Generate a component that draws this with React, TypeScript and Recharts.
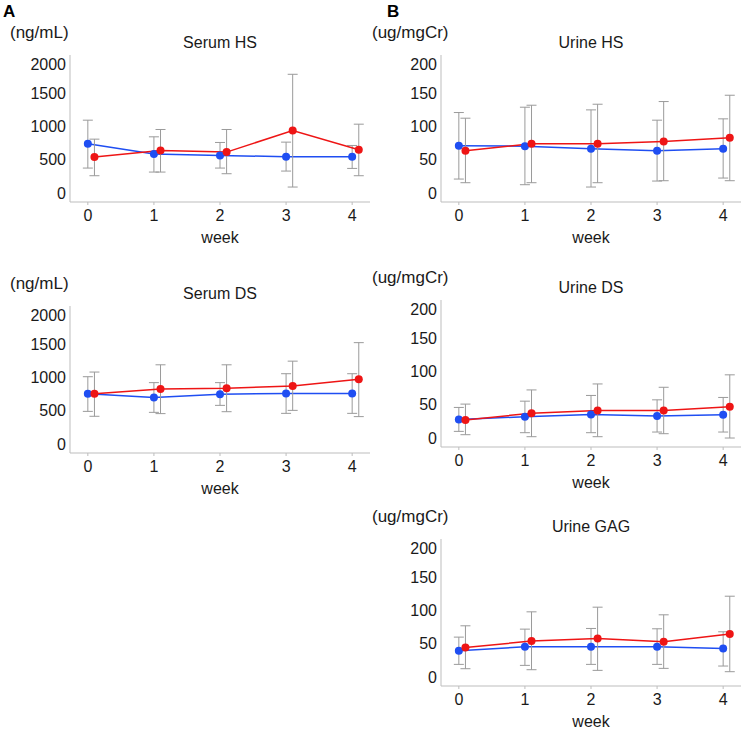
import React from "react";
import { LineChart, Line, XAxis, YAxis, ErrorBar } from "recharts";

const weeks = [0, 1, 2, 3, 4];
const offsetRed = 0.1;

// Serum HS (ng/mL)
const serumHSBlue = [740, 585, 565, 545, 545];
const serumHSBlueHi = [1095, 845, 760, 765, 715];
const serumHSBlueLo = [375, 315, 375, 330, 370];
const serumHSRed = [540, 640, 615, 940, 650];
const serumHSRedHi = [810, 955, 955, 1785, 1035];
const serumHSRedLo = [260, 315, 290, 90, 260];

// Serum DS (ng/mL)
const serumDSBlue = [754, 700, 749, 759, 759];
const serumDSBlueHi = [1012, 923, 923, 1057, 1057];
const serumDSBlueLo = [491, 476, 581, 461, 461];
const serumDSRed = [754, 829, 839, 873, 973];
const serumDSRedHi = [1082, 1191, 1191, 1246, 1524];
const serumDSRedLo = [417, 457, 486, 506, 412];

// Urine HS (ug/mgCr)
const urineHSBlue = [71, 70.5, 66.5, 63.5, 66.5];
const urineHSBlueHi = [121, 129, 125, 109.5, 111.5];
const urineHSBlueLo = [21, 12.5, 9, 18, 22.5];
const urineHSRed = [63.5, 74, 74, 77.5, 83];
const urineHSRedHi = [112.5, 132, 133.5, 137.5, 147];
const urineHSRedLo = [15.5, 15.5, 15.5, 18.5, 18.5];

// Urine DS (ug/mgCr)
const urineDSBlue = [28, 32, 35.4, 33, 35];
const urineDSBlueHi = [46, 55.4, 64, 57.4, 61];
const urineDSBlueLo = [10, 8, 8, 9, 9];
const urineDSRed = [27, 37.4, 41.4, 41.4, 47];
const urineDSRedHi = [51, 72.3, 81.3, 76.3, 95];
const urineDSRedLo = [5, 2, 2, 6.5, 0];

// Urine GAG (ug/mgCr)
const urineGAGBlue = [39.5, 45.5, 45.5, 45.5, 43];
const urineGAGBlueHi = [60, 72, 73, 72.5, 68];
const urineGAGBlueLo = [19, 17.5, 19, 19, 16.5];
const urineGAGRed = [44.5, 54, 58, 53, 64.5];
const urineGAGRedHi = [77, 98, 105, 93.5, 121.5];
const urineGAGRedLo = [12.5, 11, 10, 13, 8];

const serumTicks = [0, 500, 1000, 1500, 2000];
const urineTicks = [0, 50, 100, 150, 200];
const serumDomain: [number, number] = [-135, 2075];
const urineDomain: [number, number] = [-13.5, 207.5];

const BLUE = "#1f4ef2";
const RED = "#ee1515";
const FONT = "'Liberation Sans', Arial, sans-serif";

function build(mean: number[], hi: number[], lo: number[], shift: number) {
  return weeks.map((w, i) => ({
    x: w + shift,
    y: mean[i],
    err: [mean[i] - lo[i], hi[i] - mean[i]],
  }));
}

type PanelProps = {
  left: number;
  top: number;
  title: string;
  unit: string;
  unitLeft: number;
  ticks: number[];
  domain: [number, number];
  blue: [number[], number[], number[]];
  red: [number[], number[], number[]];
};

const PLOT_W = 300;
const PLOT_H = 147;
const YW = 60;

function Panel(p: PanelProps) {
  const blueData = build(p.blue[0], p.blue[1], p.blue[2], 0);
  const redData = build(p.red[0], p.red[1], p.red[2], offsetRed);
  const cx = p.left + PLOT_W / 2;
  return (
    <>
      <div
        style={{
          position: "absolute",
          left: p.unitLeft,
          top: p.top - 23,
          transform: "translateY(-50%)",
          fontFamily: FONT,
          fontSize: 17,
          lineHeight: 1,
          color: "#1a1a1a",
          whiteSpace: "nowrap",
        }}
      >
        {p.unit}
      </div>
      <div
        style={{
          position: "absolute",
          left: cx,
          top: p.top - 12,
          transform: "translate(-50%,-50%)",
          fontFamily: FONT,
          fontSize: 16,
          lineHeight: 1,
          color: "#1a1a1a",
          whiteSpace: "nowrap",
        }}
      >
        {p.title}
      </div>
      <div
        style={{
          position: "absolute",
          left: cx,
          top: p.top + PLOT_H + 36,
          transform: "translate(-50%,-50%)",
          fontFamily: FONT,
          fontSize: 16,
          lineHeight: 1,
          color: "#1a1a1a",
        }}
      >
        week
      </div>
      <div style={{ position: "absolute", left: p.left - YW, top: p.top }}>
        <LineChart
          width={YW + PLOT_W + 4}
          height={PLOT_H + 30}
          margin={{ top: 0, right: 4, bottom: 0, left: 0 }}
          style={{ fontFamily: FONT }}
        >
          <XAxis
            type="number"
            dataKey="x"
            domain={[-0.27, 4.27]}
            ticks={weeks}
            height={30}
            tickSize={3}
            tickMargin={5}
            stroke="#bdbdbd"
            tick={{ fill: "#1a1a1a", fontSize: 16 }}
            allowDataOverflow
          />
          <YAxis
            type="number"
            domain={p.domain}
            ticks={p.ticks}
            width={YW}
            tickLine={false}
            tickSize={0}
            tickMargin={4}
            stroke="#bdbdbd"
            tick={{ fill: "#1a1a1a", fontSize: 16 }}
            allowDataOverflow
          />
          <Line
            data={blueData}
            dataKey="y"
            stroke={BLUE}
            strokeWidth={1.5}
            dot={{ r: 4, fill: BLUE, stroke: BLUE, strokeWidth: 0 }}
            isAnimationActive={false}
          >
            <ErrorBar dataKey="err" direction="y" width={5} stroke="#9a9a9a" strokeWidth={1} />
          </Line>
          <Line
            data={redData}
            dataKey="y"
            stroke={RED}
            strokeWidth={1.5}
            dot={{ r: 4, fill: RED, stroke: RED, strokeWidth: 0 }}
            isAnimationActive={false}
          >
            <ErrorBar dataKey="err" direction="y" width={5} stroke="#9a9a9a" strokeWidth={1} />
          </Line>
        </LineChart>
      </div>
    </>
  );
}

export default function App() {
  return (
    <div
      style={{
        position: "absolute",
        left: 0,
        top: 0,
        width: 744,
        height: 729,
        background: "#fff",
        overflow: "hidden",
      }}
    >
      <div style={{ position: "absolute", left: 3, top: 3, fontFamily: FONT, fontWeight: "bold", fontSize: 17, lineHeight: 1 }}>A</div>
      <div style={{ position: "absolute", left: 387, top: 3, fontFamily: FONT, fontWeight: "bold", fontSize: 17, lineHeight: 1 }}>B</div>
      <Panel
        left={70}
        top={55}
        title="Serum HS"
        unit="(ng/mL)"
        unitLeft={10}
        ticks={serumTicks}
        domain={serumDomain}
        blue={[serumHSBlue, serumHSBlueHi, serumHSBlueLo]}
        red={[serumHSRed, serumHSRedHi, serumHSRedLo]}
      />
      <Panel
        left={70}
        top={306}
        title="Serum DS"
        unit="(ng/mL)"
        unitLeft={10}
        ticks={serumTicks}
        domain={serumDomain}
        blue={[serumDSBlue, serumDSBlueHi, serumDSBlueLo]}
        red={[serumDSRed, serumDSRedHi, serumDSRedLo]}
      />
      <Panel
        left={441}
        top={55}
        title="Urine HS"
        unit="(ug/mgCr)"
        unitLeft={372}
        ticks={urineTicks}
        domain={urineDomain}
        blue={[urineHSBlue, urineHSBlueHi, urineHSBlueLo]}
        red={[urineHSRed, urineHSRedHi, urineHSRedLo]}
      />
      <Panel
        left={441}
        top={300}
        title="Urine DS"
        unit="(ug/mgCr)"
        unitLeft={372}
        ticks={urineTicks}
        domain={urineDomain}
        blue={[urineDSBlue, urineDSBlueHi, urineDSBlueLo]}
        red={[urineDSRed, urineDSRedHi, urineDSRedLo]}
      />
      <Panel
        left={441}
        top={539}
        title="Urine GAG"
        unit="(ug/mgCr)"
        unitLeft={372}
        ticks={urineTicks}
        domain={urineDomain}
        blue={[urineGAGBlue, urineGAGBlueHi, urineGAGBlueLo]}
        red={[urineGAGRed, urineGAGRedHi, urineGAGRedLo]}
      />
    </div>
  );
}
